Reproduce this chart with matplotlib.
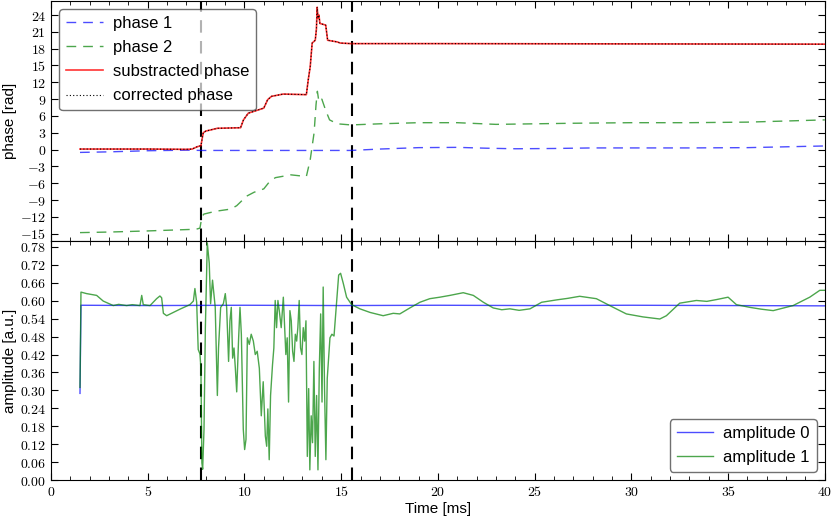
import matplotlib
matplotlib.use("Agg")
import matplotlib.pyplot as plt
import numpy as np
from matplotlib.ticker import MultipleLocator, FuncFormatter

plt.rcParams['font.family'] = ['Liberation Sans', 'DejaVu Sans']
plt.rcParams['mathtext.fontset'] = 'cm'
plt.rcParams['mathtext.default'] = 'rm'

# phase data (rad)
t_phase1 = [1.5, 3.0, 5.0, 7.0, 7.8, 10.0, 13.0, 15.5, 17.0, 19.0, 21.0, 22.5, 24.0,
            26.0, 28.0, 30.0, 33.0, 36.0, 38.0, 40.0]
phase1 = [-0.5, -0.4, -0.2, -0.1, -0.15, -0.15, -0.15, -0.15, 0.1, 0.35, 0.4, 0.25, 0.15,
          0.2, 0.3, 0.3, 0.3, 0.35, 0.5, 0.65]

t_phase2 = [1.5, 3.0, 5.0, 7.5, 7.7, 7.8, 7.9, 8.5, 9.3, 9.6, 9.9, 10.0, 10.5, 11.0,
            11.3, 11.6, 12.4, 13.2, 13.4, 13.6, 13.7, 13.77, 13.85, 14.0, 14.2, 14.4,
            14.8, 15.5, 17.0, 19.0, 21.0, 23.0, 25.0, 27.0, 30.0, 33.0, 36.0, 38.0, 40.0]
phase2 = [-14.8, -14.7, -14.5, -14.2, -14.0, -12.0, -11.5, -11.0, -10.6, -10.0, -9.0,
          -8.5, -7.6, -7.0, -5.7, -5.0, -4.5, -4.8, -1.8, 3.0, 8.0, 10.4, 8.5, 9.0, 7.0,
          5.3, 4.6, 4.4, 4.6, 4.8, 4.8, 4.5, 4.6, 4.7, 4.8, 4.8, 4.9, 5.1, 5.3]

t_sub = [1.5, 3.0, 5.0, 7.0, 7.3, 7.55, 7.75, 7.87, 8.0, 8.6, 9.8, 9.95, 10.2, 11.0,
         11.2, 11.4, 12.0, 13.2, 13.3, 13.4, 13.5, 13.66, 13.72, 13.76, 13.8, 13.85,
         13.9, 14.2, 14.3, 14.8, 14.95, 15.5, 20.0, 30.0, 40.0]
sub_phase = [0.1, 0.1, 0.1, 0.05, 0.1, 0.5, 0.7, 3.0, 3.3, 3.8, 3.9, 5.3, 6.5, 7.4,
             8.9, 9.5, 9.9, 9.8, 12.5, 14.8, 19.0, 19.5, 21.5, 25.4, 23.4, 24.0,
             22.5, 22.2, 19.5, 19.2, 19.0, 18.9, 18.9, 18.85, 18.8]
corr_phase = sub_phase

# amplitude data (a.u.)
t_amp0 = [1.5, 1.55, 5.0, 10.0, 15.0, 20.0, 25.0, 30.0, 35.0, 40.0]
amp0 = [0.29, 0.585, 0.584, 0.585, 0.584, 0.585, 0.584, 0.585, 0.584, 0.583]

t_amp1 = [1.50, 1.55, 1.84, 2.36, 2.70, 3.22, 3.50, 3.91, 4.20, 4.60, 4.69, 4.77, 5.12,
          5.46, 5.63, 5.72, 5.81, 5.98, 6.32, 6.67, 7.18, 7.36, 7.44, 7.53, 7.61, 7.70,
          7.75, 7.80, 7.84, 7.91, 7.98, 8.08, 8.18, 8.25, 8.35, 8.42, 8.49, 8.60, 8.66,
          8.77, 8.91, 9.01, 9.08, 9.18, 9.25, 9.32, 9.39, 9.46, 9.53, 9.60, 9.70, 9.77,
          9.84, 9.94, 10.01, 10.08, 10.15, 10.25, 10.35, 10.46, 10.56, 10.66, 10.77,
          10.87, 10.97, 11.08, 11.15, 11.21, 11.28, 11.35, 11.45, 11.52, 11.59, 11.66,
          11.73, 11.80, 11.90, 12.01, 12.08, 12.14, 12.21, 12.28, 12.35, 12.42, 12.49,
          12.56, 12.63, 12.70, 12.76, 12.83, 12.90, 12.97, 13.04, 13.11, 13.18, 13.25,
          13.32, 13.38, 13.45, 13.52, 13.59, 13.66, 13.73, 13.80, 13.87, 13.94, 14.01,
          14.07, 14.14, 14.21, 14.28, 14.35, 14.42, 14.52, 14.63, 14.76, 14.87, 14.97,
          15.11, 15.28, 15.54, 15.97, 16.49, 17.17, 17.69, 18.03, 18.55, 19.07, 19.58,
          20.10, 20.62, 21.31, 21.83, 22.35, 22.86, 23.30, 23.72, 24.20, 24.76, 25.36,
          26.14, 26.70, 27.33, 28.19, 28.88, 29.74, 30.60, 31.10, 31.47, 31.81, 32.50,
          33.36, 33.90, 34.40, 35.00, 35.43, 36.12, 36.70, 37.33, 38.36, 39.22, 39.74,
          40.00]
amp1 = [0.31, 0.629, 0.624, 0.618, 0.599, 0.584, 0.588, 0.584, 0.587, 0.584, 0.618,
        0.587, 0.584, 0.607, 0.616, 0.610, 0.558, 0.550, 0.561, 0.572, 0.587, 0.599,
        0.641, 0.595, 0.437, 0.422, 0.374, 0.057, 0.036, 0.170, 0.510, 0.794, 0.726,
        0.590, 0.669, 0.624, 0.578, 0.283, 0.442, 0.578, 0.590, 0.624, 0.578, 0.397,
        0.533, 0.578, 0.408, 0.442, 0.374, 0.295, 0.476, 0.578, 0.488, 0.170, 0.102,
        0.136, 0.476, 0.454, 0.488, 0.465, 0.420, 0.431, 0.374, 0.215, 0.329, 0.147,
        0.113, 0.238, 0.068, 0.283, 0.385, 0.442, 0.601, 0.510, 0.601, 0.567, 0.510,
        0.612, 0.510, 0.420, 0.476, 0.261, 0.567, 0.533, 0.431, 0.397, 0.488, 0.465,
        0.510, 0.601, 0.442, 0.420, 0.510, 0.465, 0.533, 0.079, 0.306, 0.034, 0.215,
        0.125, 0.397, 0.079, 0.283, 0.034, 0.374, 0.556, 0.261, 0.646, 0.306, 0.068,
        0.340, 0.408, 0.476, 0.488, 0.482, 0.590, 0.686, 0.692, 0.658, 0.612, 0.587,
        0.573, 0.561, 0.550, 0.558, 0.556, 0.576, 0.595, 0.607, 0.612, 0.618, 0.627,
        0.618, 0.595, 0.576, 0.570, 0.573, 0.568, 0.573, 0.595, 0.603, 0.608, 0.615,
        0.607, 0.584, 0.556, 0.546, 0.542, 0.539, 0.550, 0.592, 0.601, 0.598, 0.604,
        0.612, 0.587, 0.578, 0.572, 0.567, 0.584, 0.612, 0.635, 0.635]

markers_t = [7.78, 15.55]

fig = plt.figure(figsize=(8.33, 5.19), dpi=100)
fig.patch.set_facecolor('white')
ax1 = fig.add_axes((0.0612, 0.5356, 0.929, 0.4625))
ax2 = fig.add_axes((0.0612, 0.0751, 0.929, 0.4605), sharex=ax1)

ax1.plot(t_phase1, phase1, color='b', ls='--', dashes=(7, 5), lw=1, alpha=0.7, label='phase 1')
ax1.plot(t_phase2, phase2, color='g', ls='--', dashes=(7, 5), lw=1, alpha=0.7, label='phase 2')
ax1.plot(t_sub, sub_phase, color='r', lw=1.2, alpha=0.8, label='substracted phase')
ax1.plot(t_sub, corr_phase, color='k', ls=':', dashes=(1, 2), lw=0.8, label='corrected phase')

ax2.plot(t_amp0, amp0, color='b', lw=1, alpha=0.7, label='amplitude 0')
ax2.plot(t_amp1, amp1, color='g', lw=1, alpha=0.7, label='amplitude 1')

for ax in (ax1, ax2):
    for tm in markers_t:
        ax.axvline(tm, color='k', ls='--', dashes=(6, 4), lw=1.5, zorder=1)
    ax.tick_params(which='both', direction='in', top=True, right=True, labelsize=10)
    ax.tick_params(which='major', length=5)
    ax.tick_params(which='minor', length=3)
    ax.xaxis.set_major_locator(MultipleLocator(5))
    ax.xaxis.set_minor_locator(MultipleLocator(1))

ax1.set_xlim(0, 40)
ax1.set_ylim(-16.3, 26.5)
ax1.yaxis.set_major_locator(MultipleLocator(3))
ax1.yaxis.set_major_formatter(FuncFormatter(lambda v, p: '$%d$' % round(v)))
ax1.tick_params(labelbottom=False)
ax1.set_ylabel('phase [rad]', fontsize=11, labelpad=2)

ax2.set_ylim(0, 0.80)
ax2.yaxis.set_major_locator(MultipleLocator(0.06))
ax2.yaxis.set_major_formatter(FuncFormatter(lambda v, p: '$%.2f$' % v))
ax2.xaxis.set_major_formatter(FuncFormatter(lambda v, p: '$%d$' % round(v)))
ax2.set_ylabel('amplitude [a.u.]', fontsize=11, labelpad=2)
ax2.set_xlabel('Time [ms]', fontsize=11, labelpad=2)

leg1 = ax1.legend(loc='upper left', fontsize=12, fancybox=True, framealpha=0.7,
                  handlelength=2.2, handletextpad=0.6, labelspacing=0.55,
                  borderaxespad=0.5)
leg1.get_frame().set_edgecolor('#333333')
leg2 = ax2.legend(loc='lower right', fontsize=12, fancybox=True, framealpha=0.7,
                  handlelength=2.2, handletextpad=0.6, labelspacing=0.55,
                  borderaxespad=0.5)
leg2.get_frame().set_edgecolor('#333333')

fig.savefig('out.png', dpi=100)
